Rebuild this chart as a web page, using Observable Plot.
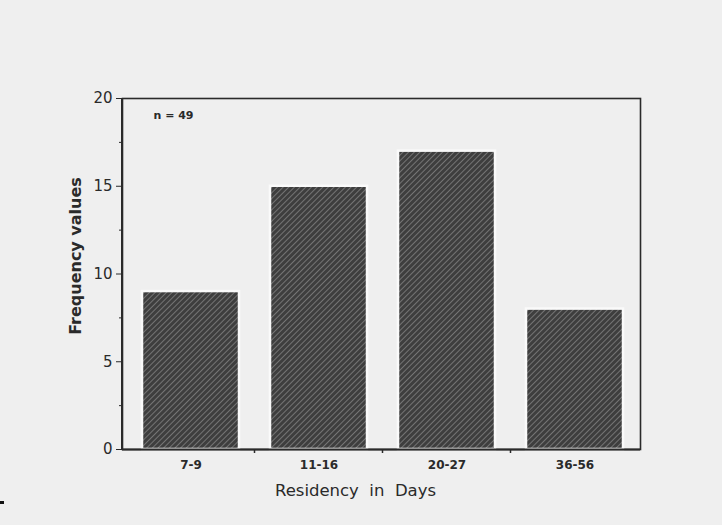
<!DOCTYPE html>
<html>
<head>
<meta charset="utf-8">
<script src="https://cdn.jsdelivr.net/npm/d3@7"></script>
<script src="https://cdn.jsdelivr.net/npm/@observablehq/plot@0.6"></script>
<style>
  html, body { margin: 0; padding: 0; background: #efefef; }
  #chart { position: relative; width: 722px; height: 525px; }
  #chart svg { display: block; }
  .dash { position: absolute; left: 0; top: 501px; width: 4px; height: 3px; background: #111; }
</style>
</head>
<body>
<div id="chart"><div class="dash"></div></div>
<script>
const categories = ["7-9", "11-16", "20-27", "36-56"];
const frequencies = [9, 15, 17, 8];
const majorTicks = [0, 5, 10, 15, 20];
const minorTicks = [2.5, 7.5, 12.5, 17.5];
const sampleNote = "n = 49";
const xLabel = "Residency  in  Days";
const yLabel = "Frequency values";

const data = categories.map((c, i) => ({category: c, value: frequencies[i]}));
const font = "'DejaVu Sans', sans-serif";
const ink = "#2a2a2a";

const axisExtras = (index, scales, values, dim, context) => {
  const x = scales.x;
  const g = d3.create("svg:g");
  const step = x.step ? x.step() : 129;
  const bw = x.bandwidth ? x.bandwidth() : 95;
  const y0 = dim.height - dim.marginBottom;
  const x0 = dim.marginLeft;
  g.append("line").attr("x1", x0).attr("x2", x0).attr("y1", dim.marginTop).attr("y2", y0)
    .attr("stroke", ink).attr("stroke-width", 2);
  categories.slice(0, -1).forEach(c => {
    const px = x(c) + bw + (step - bw) / 2;
    g.append("line").attr("x1", px).attr("x2", px).attr("y1", y0).attr("y2", y0 + 4)
      .attr("stroke", ink).attr("stroke-width", 1.5);
  });
  return g.node();
};

const chart = Plot.plot({
  width: 722,
  height: 525,
  marginLeft: 122,
  marginRight: 82,
  marginTop: 98,
  marginBottom: 76,
  style: {background: "transparent", fontFamily: font, color: ink},
  x: {domain: categories, paddingInner: 0.24, paddingOuter: 0.13, align: 0.55},
  y: {domain: [0, 20]},
  marks: [
    Plot.frame({stroke: ink, strokeWidth: 1.6}),
    Plot.barY(data, {x: "category", y: "value", fill: "url(#hatch)", stroke: "#fafafa", strokeWidth: 2.5}),
    Plot.ruleY([0], {stroke: ink, strokeWidth: 2}),
    Plot.axisY({ticks: majorTicks, tickSize: 6, tickPadding: 4, fontSize: 15, fontWeight: "500", label: null, tickFormat: d => d}),
    Plot.axisY({ticks: minorTicks, tickSize: 3, tickFormat: null, text: null, label: null}),
    Plot.axisX({tickSize: 0, tickPadding: 11, fontSize: 12, fontWeight: "bold", label: null}),
    axisExtras,
    Plot.text([xLabel], {frameAnchor: "bottom", dx: -26, dy: 46, fontSize: 16.5, fontWeight: "500", fill: ink}),
    Plot.text([yLabel], {frameAnchor: "left", textAnchor: "middle", rotate: -90, dx: -47, dy: -18, fontSize: 16, fontWeight: "bold", fill: ink}),
    Plot.text([sampleNote], {frameAnchor: "top-left", dx: 31, dy: 13, fontSize: 11, fontWeight: "bold", fill: ink, textAnchor: "start"})
  ]
});

const defs = d3.create("svg:defs");
const pat = defs.append("pattern").attr("id", "hatch").attr("patternUnits", "userSpaceOnUse")
  .attr("width", 4).attr("height", 4).attr("patternTransform", "rotate(45)");
pat.append("rect").attr("width", 4).attr("height", 4).attr("fill", "#3e3e3e");
pat.append("line").attr("x1", 0).attr("y1", 0).attr("x2", 0).attr("y2", 4)
  .attr("stroke", "#999").attr("stroke-width", 1.2);
chart.insertBefore(defs.node(), chart.firstChild);

document.getElementById("chart").appendChild(chart);
</script>
</body>
</html>
